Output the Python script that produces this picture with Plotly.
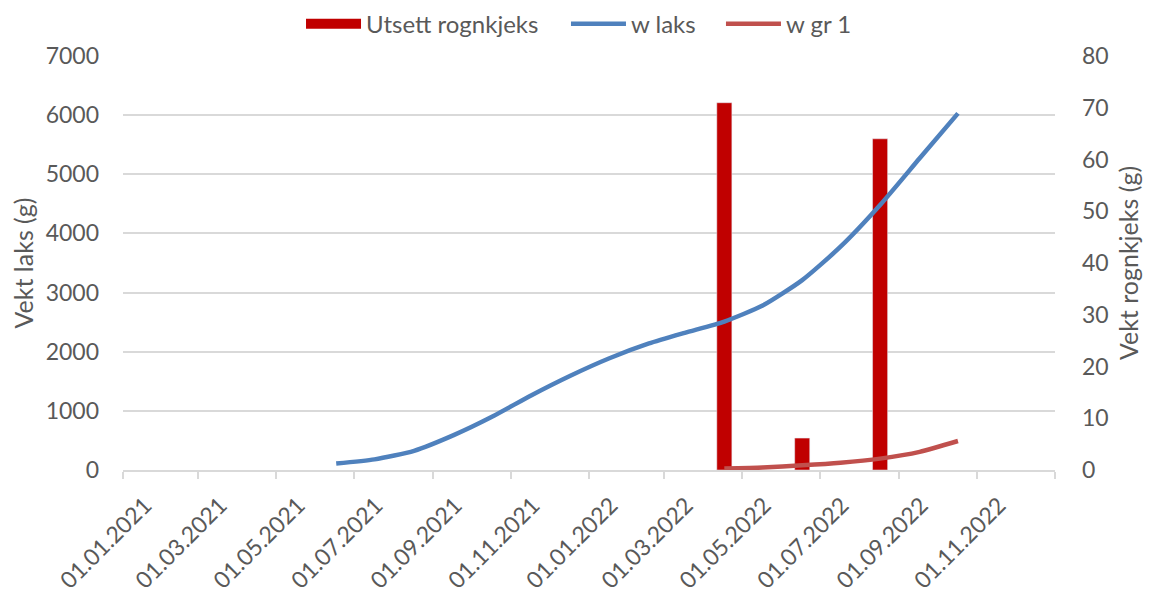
import plotly.graph_objects as go

# monthly weights (mid month)
laks_dates = ["2021-06-17", "2021-07-17", "2021-08-17", "2021-09-17", "2021-10-17",
              "2021-11-17", "2021-12-17", "2022-01-17", "2022-02-17", "2022-03-17",
              "2022-04-17", "2022-05-17", "2022-06-17", "2022-07-17", "2022-08-17",
              "2022-09-17", "2022-10-17"]
w_laks = [110, 180, 325, 590, 900, 1265, 1590, 1890, 2140, 2320,
          2510, 2780, 3210, 3775, 4480, 5270, 6030]

gr1_dates = ["2022-04-17", "2022-05-17", "2022-06-17", "2022-07-17",
             "2022-08-17", "2022-09-17", "2022-10-17"]
w_gr1 = [0.3, 0.5, 0.9, 1.4, 2.2, 3.5, 5.6]

utsett_dates = ["2022-04-17", "2022-06-17", "2022-08-17"]
utsett = [6210, 540, 5600]

tick_dates = ["2021-01-01", "2021-03-01", "2021-05-01", "2021-07-01", "2021-09-01",
              "2021-11-01", "2022-01-01", "2022-03-01", "2022-05-01", "2022-07-01",
              "2022-09-01", "2022-11-01", "2023-01-01"]
tick_labels = ["01.01.2021", "01.03.2021", "01.05.2021", "01.07.2021", "01.09.2021",
               "01.11.2021", "01.01.2022", "01.03.2022", "01.05.2022", "01.07.2022",
               "01.09.2022", "01.11.2022", ""]

FONT = "Lato"
GREY = "#595959"
BAR_RED = "#c00000"
DAY_MS = 86400000

fig = go.Figure()
fig.add_trace(go.Bar(
    x=utsett_dates, y=utsett, name="Utsett rognkjeks", showlegend=False,
    marker_color=BAR_RED, width=[11.8 * DAY_MS] * len(utsett), yaxis="y",
))
# legend entry with a wide swatch, like the original
fig.add_trace(go.Scatter(
    x=[None], y=[None], name="Utsett rognkjeks", mode="lines",
    line=dict(color=BAR_RED, width=15), legend="legend",
))
fig.add_trace(go.Scatter(
    x=laks_dates, y=w_laks, name="w laks", mode="lines",
    line=dict(color="#4f81bd", width=4.5, shape="spline", smoothing=0.6), yaxis="y",
    legend="legend2",
))
fig.add_trace(go.Scatter(
    x=gr1_dates, y=w_gr1, name="w gr 1", mode="lines",
    line=dict(color="#c0504d", width=4.5, shape="spline", smoothing=0.6), yaxis="y2",
    legend="legend3",
))

leg = dict(orientation="h", xanchor="left", y=1.077, yanchor="middle",
           font=dict(size=24, color=GREY), itemwidth=55, bgcolor="rgba(0,0,0,0)")

fig.update_layout(
    width=1151, height=596,
    margin=dict(l=115, r=104, t=48, b=134, autoexpand=False),
    plot_bgcolor="white", paper_bgcolor="white",
    font=dict(family=FONT, size=23, color=GREY),
    showlegend=True,
    legend=dict(leg, x=0.191),
    legend2=dict(leg, x=0.4753),
    legend3=dict(leg, x=0.6416),
    xaxis=dict(
        type="date", range=["2021-01-01", "2023-01-01"],
        tickvals=tick_dates, ticktext=tick_labels, tickangle=-45,
        showgrid=False, showline=True, linecolor="#d9d9d9", linewidth=1.5,
        ticks="outside", ticklen=7, tickcolor="#d9d9d9", tickwidth=1.5,
        tickfont=dict(size=23, color=GREY), zeroline=False,
        ticklabelshift=22, ticklabelstandoff=4,
    ),
    yaxis=dict(
        range=[0, 7000], dtick=1000, showgrid=True, gridcolor="#d9d9d9", gridwidth=1.5,
        zeroline=False, showline=False, tickfont=dict(size=23, color=GREY),
        title=dict(text="Vekt laks (g)", font=dict(size=25, color=GREY), standoff=8),
        ticklabelstandoff=23,
    ),
    yaxis2=dict(
        range=[0, 80], dtick=10, overlaying="y", side="right", showgrid=False,
        zeroline=False, showline=False, tickfont=dict(size=23, color=GREY),
        title=dict(text="Vekt rognkjeks (g)", font=dict(size=25, color=GREY), standoff=12),
        ticklabelstandoff=26,
    ),
)

fig.write_html("out.html")
